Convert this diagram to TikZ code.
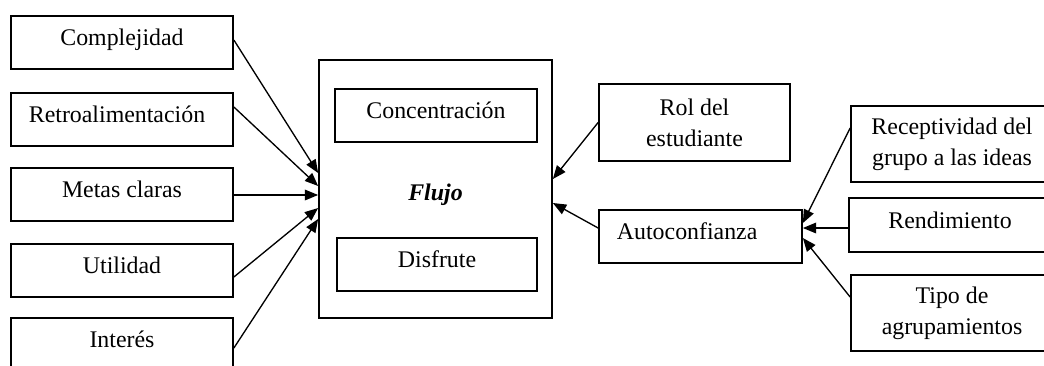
\documentclass[tikz,border=0pt]{standalone}
\usepackage{fontspec}
\setmainfont{Liberation Serif}
\usetikzlibrary{arrows.meta,calc}
\begin{document}
\begin{tikzpicture}[x=0.75pt,y=-0.75pt,
  box/.style={draw,line width=1.3pt,inner sep=0pt,align=center,
    font=\fontsize{17.9}{23}\selectfont,text height=0.7em,text depth=0.25em},
  arr/.style={line width=1pt,-{Triangle[length=10pt,width=8pt]}}]
\useasboundingbox (0,0) rectangle (1044,365);
\clip (0,0) rectangle (1044,365);
% left boxes
\node[box,minimum width=222*0.75pt,minimum height=53*0.75pt] (comp) at (122,42.5) {Complejidad};
\node[box,minimum width=222*0.75pt,minimum height=53*0.75pt] (retro) at (122,119.5) {Retroalimentación\hspace*{7.5pt}};
\node[box,minimum width=222*0.75pt,minimum height=53*0.75pt] (metas) at (122,194.5) {Metas claras};
\node[box,minimum width=222*0.75pt,minimum height=53*0.75pt] (util) at (122,270.5) {Utilidad};
\node[box,minimum width=222*0.75pt,minimum height=53*0.75pt] (inter) at (122,344.5) {Interés};
% central
\node[box,minimum width=233*0.75pt,minimum height=258*0.75pt,
  label={[font=\fontsize{17.9}{23}\selectfont\bfseries\itshape,yshift=-4.5pt]center:Flujo}] (flujo) at (435.5,189) {};
\node[box,minimum width=202*0.75pt,minimum height=53*0.75pt] (conc) at (436,115.5) {Concentración};
\node[box,minimum width=200*0.75pt,minimum height=53*0.75pt] (disf) at (437,264.5) {Disfrute};
% right
\node[box,minimum width=191*0.75pt,minimum height=77*0.75pt,text height=,text depth=] (rol) at (694.5,122.5) {Rol del\\estudiante};
\node[box,minimum width=203*0.75pt,minimum height=53*0.75pt] (auto) at (700.5,236.5) {Autoconfianza\hspace*{20pt}};
\node[box,minimum width=202*0.75pt,minimum height=76*0.75pt,text height=,text depth=] (recep) at (952,144) {Receptividad del\\grupo a las ideas};
\node[box,minimum width=202*0.75pt,minimum height=54*0.75pt] (rend) at (950,225) {Rendimiento};
\node[box,minimum width=202*0.75pt,minimum height=76*0.75pt,text height=,text depth=] (tipo) at (952,313) {Tipo de\\agrupamientos};
% arrows left
\draw[arr] ($(comp.east)+(0,-2.5)$) -- ($(flujo.west)+(0,-16)$);
\draw[arr] ($(retro.east)+(0,-12.5)$) -- ($(flujo.west)+(0,-3)$);
\draw[arr] ($(metas.east)+(0,0.5)$) -- ($(flujo.west)+(0,6)$);
\draw[arr] ($(util.east)+(0,6.5)$) -- ($(flujo.west)+(0,19)$);
\draw[arr] ($(inter.east)+(0,3.5)$) -- ($(flujo.west)+(0,30)$);
% arrows right
\draw[arr] (rol.west) -- ($(flujo.east)+(0,-10)$);
\draw[arr] ($(auto.west)+(0,-8.5)$) -- ($(flujo.east)+(0,14)$);
\draw[arr] ($(recep.west)+(0,-16)$) -- ($(auto.east)+(0,-13.5)$);
\draw[arr] ($(rend.west)+(0,3)$) -- ($(auto.east)+(0,-8.5)$);
\draw[arr] ($(tipo.west)+(0,-16)$) -- ($(auto.east)+(0,1.5)$);
\end{tikzpicture}
\end{document}
